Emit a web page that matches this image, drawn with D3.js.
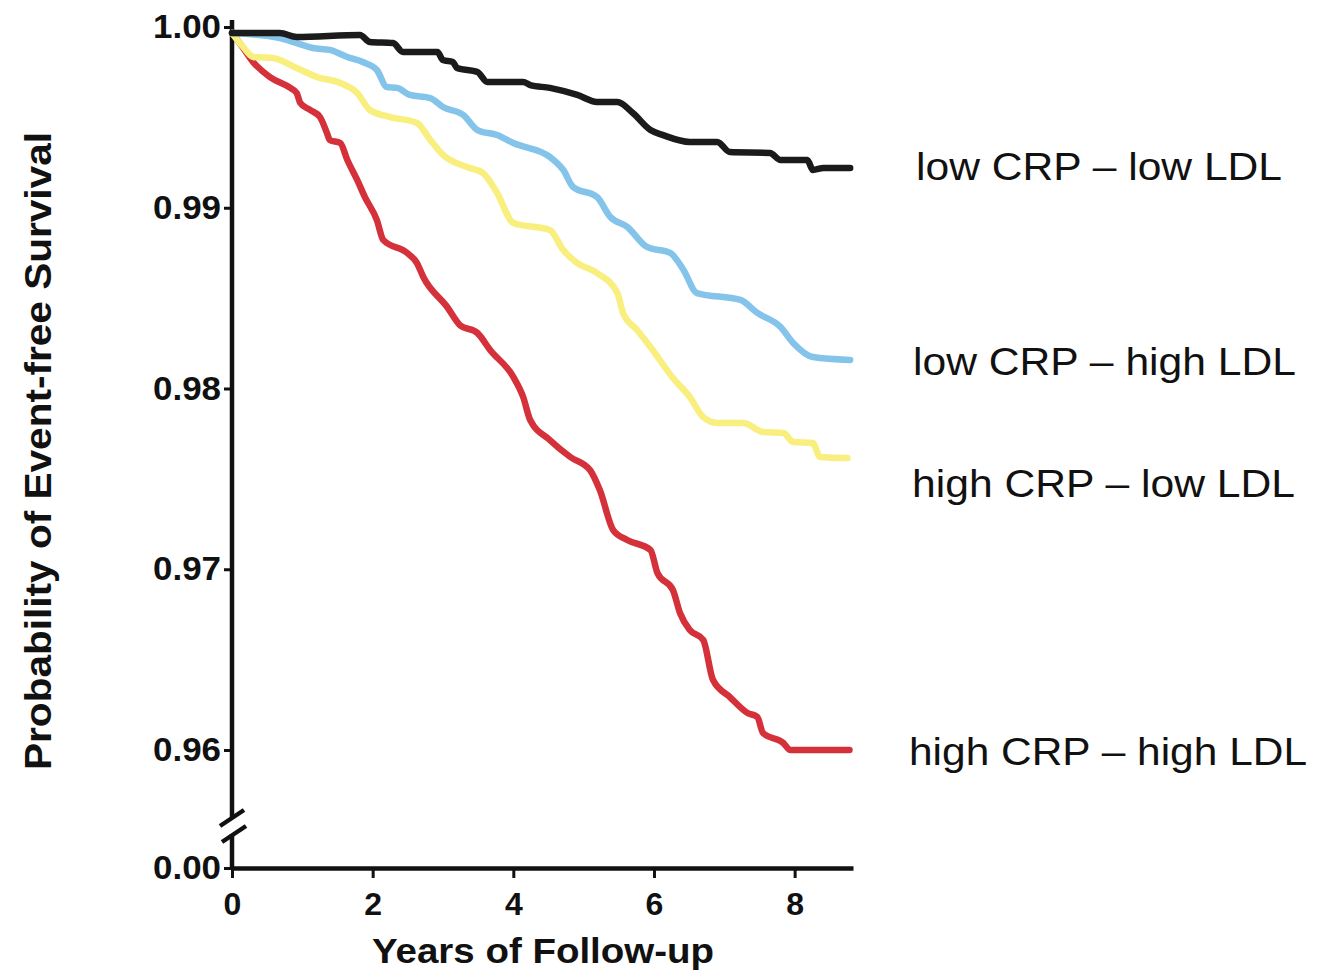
<!DOCTYPE html>
<html>
<head>
<meta charset="utf-8">
<script src="https://cdn.jsdelivr.net/npm/d3@7"></script>
<style>
  body { margin: 0; background: #fff; }
  svg text { font-family: Arial, "Liberation Sans", Helvetica, sans-serif; fill: #111; }
</style>
</head>
<body>
<script>
// survival curves: [years, probability]
var lowCrpLowLdl = [
  [0, 0.99967], [0.68, 0.99967], [0.92, 0.99945], [1.82, 0.99956], [1.96, 0.99917],
  [2.29, 0.99911], [2.43, 0.99862], [2.92, 0.99862], [3.00, 0.99817], [3.14, 0.99806],
  [3.20, 0.99773], [3.49, 0.99751], [3.63, 0.99696], [4.14, 0.99696], [4.24, 0.99679],
  [4.52, 0.99663], [4.91, 0.99624], [5.19, 0.99585], [5.48, 0.99585], [5.70, 0.99524],
  [5.95, 0.99430], [6.13, 0.99402], [6.51, 0.99364], [6.90, 0.99364], [7.08, 0.99308],
  [7.65, 0.99303], [7.80, 0.99264], [8.18, 0.99264], [8.26, 0.99209], [8.41, 0.99220],
  [8.79, 0.99220]
];
var lowCrpHighLdl = [
  [0, 0.99967], [0.68, 0.99939], [0.92, 0.99911], [1.15, 0.99884], [1.39, 0.99873],
  [1.64, 0.99834], [1.86, 0.99806], [2.06, 0.99762], [2.20, 0.99668], [2.35, 0.99663],
  [2.53, 0.99624], [2.82, 0.99607], [3.00, 0.99557], [3.29, 0.99513], [3.49, 0.99430],
  [3.77, 0.99402], [4.00, 0.99358], [4.52, 0.99281], [4.71, 0.99209], [4.85, 0.99115],
  [5.19, 0.99059], [5.38, 0.98949], [5.62, 0.98894], [5.90, 0.98783], [6.23, 0.98750],
  [6.42, 0.98656], [6.61, 0.98528], [7.23, 0.98490], [7.47, 0.98418], [7.80, 0.98340],
  [7.98, 0.98252], [8.26, 0.98174], [8.79, 0.98158]
];
var highCrpLowLdl = [
  [0, 0.99967], [0.16, 0.99889], [0.30, 0.99834], [0.58, 0.99828], [0.92, 0.99773],
  [1.21, 0.99723], [1.54, 0.99690], [1.78, 0.99635], [1.96, 0.99541], [2.25, 0.99502],
  [2.63, 0.99469], [2.82, 0.99375], [3.00, 0.99292], [3.34, 0.99225], [3.57, 0.99192],
  [3.77, 0.99082], [4.00, 0.98916], [4.52, 0.98877], [4.71, 0.98766], [4.91, 0.98694],
  [5.19, 0.98639], [5.48, 0.98528], [5.56, 0.98418], [5.76, 0.98324], [5.95, 0.98230],
  [6.27, 0.98058], [6.51, 0.97953], [6.70, 0.97842], [6.90, 0.97809], [7.27, 0.97809],
  [7.55, 0.97759], [7.84, 0.97754], [7.98, 0.97704], [8.26, 0.97698], [8.36, 0.97621],
  [8.75, 0.97615]
];
var highCrpHighLdl = [
  [0, 0.99967], [0.11, 0.99911], [0.30, 0.99806], [0.54, 0.99723], [0.83, 0.99663],
  [0.92, 0.99635], [0.97, 0.99580], [1.11, 0.99541], [1.25, 0.99502], [1.35, 0.99414],
  [1.39, 0.99375], [1.54, 0.99358], [1.64, 0.99264], [1.78, 0.99154], [1.89, 0.99059],
  [2.06, 0.98932], [2.15, 0.98822], [2.49, 0.98750], [2.63, 0.98694], [2.72, 0.98617],
  [3.06, 0.98451], [3.24, 0.98351], [3.49, 0.98307], [3.67, 0.98213], [4.00, 0.98064],
  [4.14, 0.97953], [4.24, 0.97826], [4.52, 0.97715], [4.81, 0.97621], [5.09, 0.97549],
  [5.23, 0.97438], [5.42, 0.97217], [5.62, 0.97162], [5.95, 0.97107], [6.05, 0.96979],
  [6.27, 0.96885], [6.37, 0.96758], [6.51, 0.96664], [6.70, 0.96609], [6.84, 0.96387],
  [7.08, 0.96293], [7.33, 0.96205], [7.47, 0.96183], [7.55, 0.96094], [7.84, 0.96039],
  [7.94, 0.95961], [8.32, 0.95961], [8.69, 0.95983], [8.78, 0.95961]
];

var seriesNames = ["high CRP \u2013 high LDL", "high CRP \u2013 low LDL", "low CRP \u2013 high LDL", "low CRP \u2013 low LDL"];
var seriesData = [highCrpHighLdl, highCrpLowLdl, lowCrpHighLdl, lowCrpLowLdl];
var seriesColors = ["#d4313b", "#f8ef7e", "#85c4ea", "#1b1b1b"];

var xTicks = [0, 2, 4, 6, 8];
var yTicks = [0, 0.96, 0.97, 0.98, 0.99, 1.00];

// label placement (pixels), same order as seriesNames
var labelPos = [[909, 765, 398], [912, 497, 383], [913, 375, 383], [916, 180, 366]];

var width = 1337, height = 973;

var svg = d3.select("body").append("svg")
    .attr("width", width)
    .attr("height", height);

var x = d3.scaleLinear().domain([0, 8.83]).range([232, 853]);
// broken axis: 0.00 sits below the break, the rest is 0.96 - 1.00
var y = d3.scaleLinear().domain([0, 0.96, 1.00]).range([868, 750, 27]);

// x axis
var xAxis = svg.append("g")
    .attr("transform", "translate(0," + y(0) + ")")
    .call(d3.axisBottom(x).tickValues(xTicks).tickSize(10).tickSizeOuter(0).tickPadding(14));
xAxis.select(".domain").attr("stroke", "#111").attr("stroke-width", 4.5);
xAxis.selectAll(".tick line").attr("stroke", "#111").attr("stroke-width", 3);
xAxis.selectAll(".tick text")
    .style("font-size", "32px").style("font-weight", "bold").attr("fill", "#111");

// y axis
var yAxis = svg.append("g")
    .attr("transform", "translate(232,0)")
    .call(d3.axisLeft(y).tickValues(yTicks).tickFormat(d3.format(".2f")).tickSize(8).tickSizeOuter(0).tickPadding(3));
yAxis.select(".domain").remove();
yAxis.selectAll(".tick line").attr("stroke", "#111").attr("stroke-width", 3);
yAxis.selectAll(".tick text")
    .style("font-size", "33px").style("font-weight", "bold").attr("fill", "#111")
    .attr("textLength", 68).attr("lengthAdjust", "spacingAndGlyphs");

// y axis line with the break marks
var axisLines = [
  [[232, y(1) - 7], [232, 817]],
  [[232, 834], [232, y(0)]],
  [[220, 826], [244, 810]],
  [[222, 842], [246, 826]]
];
svg.selectAll(".axisline")
  .data(axisLines)
  .enter()
  .append("path")
    .attr("class", "axisline")
    .attr("d", function(d){ return d3.line()(d); })
    .attr("stroke", "#111")
    .attr("stroke-width", 4.5)
    .attr("fill", "none");

// curves
var line = d3.line()
    .curve(d3.curveMonotoneX)
    .x(function(d){ return x(d[0]); })
    .y(function(d){ return y(d[1]); });

svg.selectAll(".curve")
  .data(seriesData)
  .enter()
  .append("path")
    .attr("class", "curve")
    .attr("d", line)
    .attr("fill", "none")
    .attr("stroke", function(d, i){ return seriesColors[i]; })
    .attr("stroke-width", 6.5)
    .attr("stroke-linejoin", "round")
    .attr("stroke-linecap", "round");

// series labels
svg.selectAll(".label")
  .data(seriesNames)
  .enter()
  .append("text")
    .attr("class", "label")
    .attr("x", function(d, i){ return labelPos[i][0]; })
    .attr("y", function(d, i){ return labelPos[i][1]; })
    .attr("textLength", function(d, i){ return labelPos[i][2]; })
    .attr("lengthAdjust", "spacingAndGlyphs")
    .style("font-size", "39px")
    .text(function(d){ return d; });

// axis titles
svg.append("text")
    .attr("x", 543)
    .attr("y", 963)
    .attr("text-anchor", "middle")
    .attr("textLength", 342)
    .attr("lengthAdjust", "spacingAndGlyphs")
    .style("font-size", "35px")
    .style("font-weight", "bold")
    .text("Years of Follow-up");

svg.append("text")
    .attr("transform", "translate(51,451) rotate(-90)")
    .attr("text-anchor", "middle")
    .attr("textLength", 638)
    .attr("lengthAdjust", "spacingAndGlyphs")
    .style("font-size", "37px")
    .style("font-weight", "bold")
    .text("Probability of Event-free Survival");
</script>
</body>
</html>
